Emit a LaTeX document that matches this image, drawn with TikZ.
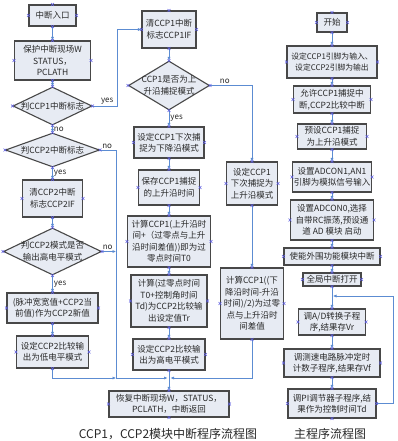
\documentclass[tikz,border=0pt]{standalone}
\usepackage{fontspec}
\setmainfont{Noto Sans CJK SC}
\usetikzlibrary{shapes.geometric,arrows.meta}
\definecolor{boxfill}{RGB}{231,235,243}
\definecolor{boxline}{RGB}{72,72,72}
\definecolor{connc}{RGB}{92,140,210}
\definecolor{cpmark}{RGB}{95,95,225}
\definecolor{txt}{RGB}{40,40,40}
\newcommand\bx[6]{\node[box,minimum width=#4pt,minimum height=#5pt] (#1) at (#2,#3) {#6};}
\newcommand\dm[6]{\node[dia,minimum width=#4pt,minimum height=#5pt] (#1) at (#2,#3) {};
  \node[dtext] (#1t) at (#1.center) {#6};}
\newcommand\cpx[1]{\foreach \an in {north,south,east,west}{\draw[cpm] (#1.\an) ++(-1.4,-1.4) -- ++(2.8,2.8) ++(-2.8,0) -- ++(2.8,-2.8);}}
\begin{document}
\begin{tikzpicture}[x=1pt,y=-1pt,
  box/.style={draw=boxline,fill=boxfill,line width=1.1pt,inner sep=0.5pt,align=center,font=\fontsize{8.5}{11.5}\selectfont,text=txt},
  dia/.style={draw=boxline,fill=boxfill,line width=1.1pt,diamond,inner sep=0pt},
  dtext/.style={align=center,font=\fontsize{8.5}{11.5}\selectfont,text=txt,inner sep=0pt},
  link/.style={draw=connc,line width=0.9pt},
  arr/.style={link,-{Latex[length=3.5pt,width=3.2pt]}},
  lab/.style={font=\fontsize{8}{9}\selectfont,text=txt,inner sep=1pt},
  cpm/.style={draw=cpmark,line width=0.5pt},
  captext/.style={font=\fontsize{12}{14}\selectfont,text=txt,inner sep=0pt}]
\fill[white] (0,0) rectangle (398,441);
\useasboundingbox (0,0) rectangle (398,441);
% left column
\bx{entry}{52.5}{15.5}{47}{21}{中断入口}
\bx{protect}{52.5}{60.5}{76}{39}{保护中断现场W\\STATUS，\\PCLATH}
\dm{d1}{52.5}{106}{79}{38}{判CCP1中断标志}
\dm{d2}{52.5}{150}{94}{34}{判CCP2中断标志}
\bx{clr2}{52.5}{198.5}{60}{37}{清CCP2中断\\标志CCP2IF}
\dm{d3}{52.5}{251.5}{98}{47}{判CCP2模式是否\\输出高电平模式}
\bx{newval}{52.5}{308}{91}{30}{(脉冲宽宽值+CCP2当\\前值)作为CCP2新值}
\bx{low}{52.5}{352}{72}{32}{设定CCP2比较输\\出为低电平模式}
% middle column
\bx{clr1}{169}{29.5}{54}{37}{清CCP1中断\\标志CCP1IF}
\dm{d4}{169}{85.5}{81}{49}{CCP1是否为上\\升沿捕捉模式}
\bx{fall}{169}{142.5}{70}{31}{设定CCP1下次捕\\捉为下降沿模式}
\bx{save}{169}{187.5}{61}{35}{保存CCP1捕捉\\的上升沿时间}
\bx{tzero}{169}{241.5}{83}{51}{计算CCP1(上升沿时\\间+（过零点与上升\\沿时间差值))即为过\\零点时间T0}
\bx{tr}{169}{301}{76}{52}{计算(过零点时间\\T0+控制角时间\\Td)为CCP2比较输\\出设定值Tr}
\bx{high}{169}{354.5}{72}{31}{设定CCP2比较输\\出为高电平模式}
\bx{restore}{169}{404}{120}{26}{恢复中断现场W，STATUS，\\PCLATH，中断返回}
% middle-right column
\bx{rise}{252}{183.5}{51}{43}{设定CCP1\\下次捕捉为\\上升沿模式}
\bx{diff}{252}{303.5}{63}{71}{计算CCP1((下\\降沿时间-升沿\\时间)/2)为过零\\点与上升沿时\\间差值}
% right column
\bx{start}{332}{22.5}{30}{19}{开始}
\node[box,minimum width=90pt,minimum height=32pt,font=\fontsize{7.8}{11.5}\selectfont] (pins) at (332,62) {设定CCP1引脚为输入、\\设定CCP2引脚为输出};
\bx{en}{332}{99.5}{77}{27}{允许CCP1捕捉中\\断,CCP2比较中断}
\bx{pre}{332}{136.5}{69}{25}{预设CCP1捕捉\\为上升沿模式}
\bx{adone}{332}{177}{79}{30}{设置ADCON1,AN1\\引脚为模拟信号输入}
\bx{adzero}{332}{220}{83}{40}{设置ADCON0,选择\\自带RC振荡,预设通\\道 AD 模块 启动}
\bx{per}{332}{256.5}{96}{17}{使能外围功能模块中断}
\bx{gie}{332}{279.5}{58}{13}{全局中断打开}
\bx{adc}{332}{322}{67}{26}{调A/D转换子程\\序,结果存Vr}
\bx{spd}{332}{363}{96}{28}{调测速电路脉冲定时\\计数子程序,结果存Vf}
\bx{pi}{332}{403.5}{88}{29}{调PI调节器子程序,结\\果作为控制时间Td}
% captions
\node[captext] (capa) at (168,434) {CCP1，CCP2模块中断程序流程图};
\node[captext] (capb) at (330,434) {主程序流程图};
% junction coordinates
\coordinate (jL) at (116,378);
\coordinate (jC) at (169,378);
\coordinate (loopc) at (332,296);
% connectors left
\draw[arr] (entry.south) -- (protect.north);
\draw[arr] (protect.south) -- (d1.north);
\draw[arr] (d1.south) -- node[lab,right,pos=0.5]{no} (d2.north);
\draw[arr] (d1.east) -- node[lab,above,pos=0.6]{yes} ++(24.5,0) |- (clr1.west);
\draw[arr] (d2.south) -- node[lab,right,pos=0.5]{yes} (clr2.north);
\draw[link] (d2.east) -- node[lab,above,pos=0.45]{no} (d2.east -| jL) -- (jL);
\draw[arr] (jL) -- ([xshift=-1.5pt]jC);
\draw[arr] (clr2.south) -- (d3.north);
\draw[arr] (d3.east) -- node[lab,above,pos=0.4]{no} (d3.east -| jL);
\draw[arr] (d3.south) -- node[lab,right,pos=0.5]{yes} (newval.north);
\draw[arr] (newval.south) -- (low.north);
\draw[arr] (low.south) |- (jL);
% connectors middle
\draw[arr] (clr1.south) -- (d4.north);
\draw[arr] (d4.south) -- node[lab,right,pos=0.5]{yes} (fall.north);
\draw[arr] (d4.east) -- node[lab,above,pos=0.35]{no} (d4.east -| rise.north) -- (rise.north);
\draw[arr] (fall.south) -- (save.north);
\draw[arr] (save.south) -- (tzero.north);
\draw[arr] (tzero.south) -- (tr.north);
\draw[arr] (tr.south) -- (high.north);
\draw[link] (high.south) -- (jC);
\draw[arr] (jC) -- (restore.north);
\draw[arr] (rise.south) -- (diff.north);
\draw[arr] (diff.south) |- ([xshift=1.5pt]jC);
% connectors right
\foreach \p/\q in {start/pins,pins/en,en/pre,pre/adone,adone/adzero,adzero/per,per/gie,gie/adc,adc/spd,spd/pi}
  \draw[arr] (\p.south) -- (\q.north);
\draw[arr] (pi.east) -- ++(17,0) |- ([xshift=1pt]loopc);
% connection point marks
\foreach \n in {entry,protect,d1,d2,clr2,d3,newval,low,clr1,d4,fall,save,tzero,tr,high,restore,rise,diff,start,pins,en,pre,adone,adzero,per,gie,adc,spd,pi}
  {\cpx{\n}}
\end{tikzpicture}
\end{document}
